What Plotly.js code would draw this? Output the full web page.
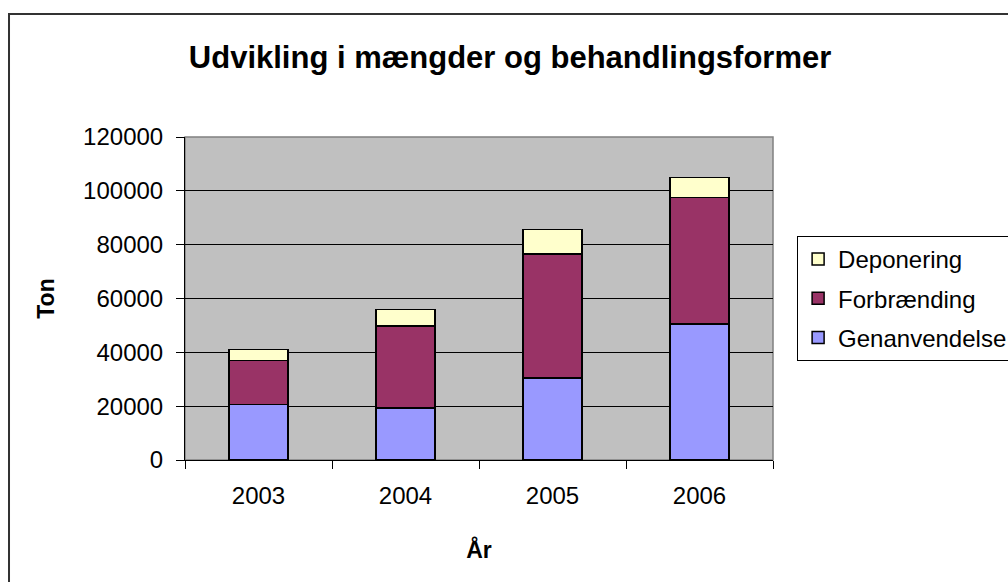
<!DOCTYPE html>
<html>
<head>
<meta charset="utf-8">
<script src="https://cdn.plot.ly/plotly-3.0.1.min.js"></script>
<style>
  html, body { margin: 0; padding: 0; background: #fff; }
  #chart { width: 1008px; height: 582px; }
</style>
</head>
<body>
<div id="chart"></div>
<script>
  // Affaldsmængder pr. år, fordelt på behandlingsform (ton)
  var years = ["2003", "2004", "2005", "2006"];
  var genanvendelse = [20700, 19300, 30400, 50600];
  var forbraending = [16300, 30400, 46200, 47000];
  var deponering = [4000, 6200, 9100, 7400];

  var FONT = "Liberation Sans, Arial, sans-serif";
  var OUTLINE = { color: "#000", width: 1.5 };

  // legendrank: Deponering øverst i forklaringen, som i stakken
  function series(name, values, color, rank) {
    return {
      type: "bar",
      name: name,
      legendgroup: name,
      legendrank: rank,
      x: years,
      y: values,
      width: 0.4,
      marker: { color: color, line: OUTLINE },
      hoverinfo: "x+y+name"
    };
  }

  var traces = [
    series("Genanvendelse", genanvendelse, "#9999FF", 3),
    series("Forbrænding", forbraending, "#993366", 2),
    series("Deponering", deponering, "#FFFFCC", 1)
  ];

  var layout = {
    width: 1008,
    height: 582,
    barmode: "stack",
    paper_bgcolor: "#fff",
    plot_bgcolor: "#C0C0C0",
    font: { family: FONT, size: 24, color: "#000" },
    margin: { l: 185, r: 235, t: 137, b: 122, autoexpand: false },
    title: {
      text: "<b>Udvikling i mængder og behandlingsformer</b>",
      font: { family: FONT, size: 31, color: "#000" },
      x: 0.506, xanchor: "center",
      y: 0.902, yanchor: "middle"
    },
    xaxis: {
      type: "category",
      showline: true, linecolor: "#000", linewidth: 1,
      ticks: "outside", tickson: "boundaries", ticklen: 8, tickcolor: "#000",
      ticklabelstandoff: 14,
      showgrid: false,
      title: { text: "<b>År</b>", font: { size: 23 }, standoff: 34 }
    },
    yaxis: {
      range: [0, 120000],
      dtick: 20000,
      tickformat: "d",
      showline: true, linecolor: "#000", linewidth: 1,
      ticks: "outside", ticklen: 8, tickcolor: "#000",
      ticklabelstandoff: 8,
      showgrid: true, gridcolor: "#000", gridwidth: 1,
      zeroline: false,
      title: { text: "<b>Ton</b>", font: { size: 23 }, standoff: 22 }
    },
    legend: {
      x: 1.041, xanchor: "left",
      y: 0.6935, yanchor: "top",
      bgcolor: "#fff",
      bordercolor: "#000", borderwidth: 1,
      traceorder: "grouped",
      tracegroupgap: 5,
      font: { family: FONT, size: 24 }
    },
    shapes: [
      // grå ramme om plotområdet (top/højre)
      {
        type: "rect", xref: "paper", yref: "paper",
        x0: 0, x1: 1, y0: 0, y1: 1,
        line: { color: "#808080", width: 1.5 },
        layer: "below"
      },
      // ydre diagramramme
      {
        type: "rect", xref: "paper", yref: "paper",
        x0: -0.2993, x1: 2, y0: -1, y1: 1.3808,
        line: { color: "#333", width: 2 }
      }
    ]
  };

  Plotly.newPlot("chart", traces, layout, { displayModeBar: false, staticPlot: true });
</script>
</body>
</html>
